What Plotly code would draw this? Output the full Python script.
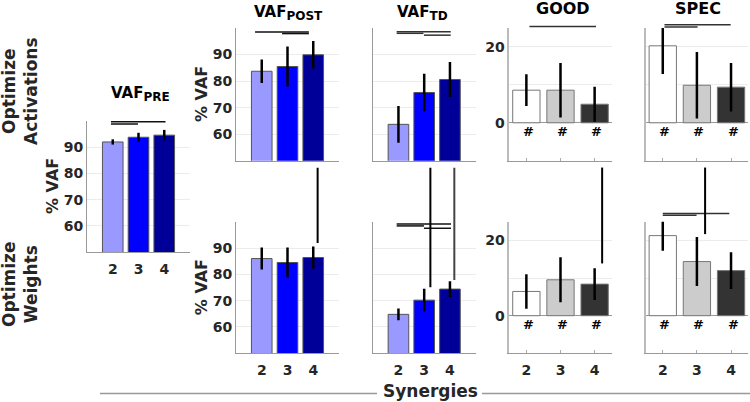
import plotly.graph_objects as go

W, H = 750, 402
FONT = "DejaVu Sans"
DARK = "#262626"
GRAY = "#999999"

# ---------------- data ----------------
categories = [2, 3, 4]
tick_labels = ["2", "3", "4"]

pre_mean = [92.0, 93.8, 94.6]
pre_err = [1.0, 1.7, 2.0]

post_act_mean = [83.7, 85.5, 89.9]
post_act_err = [4.4, 7.5, 5.2]
td_act_mean = [63.7, 75.7, 80.6]
td_act_err = [6.9, 7.1, 6.6]
good_act_mean = [8.6, 8.6, 4.9]
good_act_err = [4.2, 7.2, 4.6]
spec_act_mean = [20.3, 9.9, 9.4]
spec_act_err = [7.4, 8.75, 6.4]

post_w_mean = [86.0, 84.5, 86.4]
post_w_err = [4.2, 5.7, 4.2]
td_w_mean = [64.8, 70.2, 74.4]
td_w_err = [2.2, 4.3, 3.0]
good_w_mean = [6.45, 9.55, 8.4]
good_w_err = [4.6, 6.0, 4.2]
spec_w_mean = [21.3, 14.4, 12.0]
spec_w_err = [4.0, 6.5, 4.9]

# significance bars: (from, to, height) in data units
pre_sig = [(1.93, 4.05, 99.7), (1.93, 2.98, 98.85)]
post_act_sig = [(1.74, 3.83, 98.5), (2.79, 3.83, 97.9)]
td_act_sig = [(1.93, 4.03, 98.6), (1.93, 2.97, 98.0), (2.99, 4.03, 97.3)]
good_act_sig = [(2.09, 4.04, 25.4)]
spec_act_sig = [(2.05, 3.99, 25.87), (2.05, 3.02, 25.26)]
post_w_sig = []
td_w_sig = [(1.93, 4.04, 99.1), (1.93, 2.99, 98.4), (2.99, 4.04, 97.5)]
good_w_sig = []
spec_w_sig = [(2.0, 3.95, 27.2), (2.0, 2.99, 26.7)]

# stray vertical strokes: (x, y_low, y_high, colour)
post_w_vert = [(4.17, 91.9, 120.5, "#000000")]
td_w_vert = [(3.24, 75.1, 120.5, "#000000"), (4.17, 77.85, 120.5, "#444444")]
good_w_vert = [(4.22, 13.9, 39.4, "#000000")]
spec_w_vert = [(3.24, 21.7, 39.4, "#000000")]

hash_level = -2.4

vaf_colors = ["#9999ff", "#0000ff", "#000099"]
gs_colors = ["#ffffff", "#cccccc", "#333333"]

VAF_X = [1, 5]
VAF_Y = [50, 100]
GS_X = [1.5, 4.5]
GS_Y = [-10, 25]

# ---------------- layout geometry (pixels) ----------------
col_x = {"post": (236, 339), "td": (372.7, 475.7), "good": (509.3, 611.7), "spec": (645.7, 748.1)}
top_y = (28, 160.7)
bot_y = (221.7, 353.3)

panels = [
    dict(ax=1, kind="vaf", px=(87, 190), py=(121, 252), m=pre_mean, e=pre_err, sig=pre_sig, vert=[], ylab=True, xlab=True),
    dict(ax=2, kind="vaf", px=col_x["post"], py=top_y, m=post_act_mean, e=post_act_err, sig=post_act_sig, vert=[], ylab=True, xlab=False),
    dict(ax=3, kind="vaf", px=col_x["td"], py=top_y, m=td_act_mean, e=td_act_err, sig=td_act_sig, vert=[], ylab=False, xlab=False),
    dict(ax=4, kind="gs", px=col_x["good"], py=top_y, m=good_act_mean, e=good_act_err, sig=good_act_sig, vert=[], ylab=True, xlab=False),
    dict(ax=5, kind="gs", px=col_x["spec"], py=top_y, m=spec_act_mean, e=spec_act_err, sig=spec_act_sig, vert=[], ylab=False, xlab=False),
    dict(ax=6, kind="vaf", px=col_x["post"], py=bot_y, m=post_w_mean, e=post_w_err, sig=post_w_sig, vert=post_w_vert, ylab=True, xlab=True),
    dict(ax=7, kind="vaf", px=col_x["td"], py=bot_y, m=td_w_mean, e=td_w_err, sig=td_w_sig, vert=td_w_vert, ylab=False, xlab=True),
    dict(ax=8, kind="gs", px=col_x["good"], py=bot_y, m=good_w_mean, e=good_w_err, sig=good_w_sig, vert=good_w_vert, ylab=True, xlab=True),
    dict(ax=9, kind="gs", px=col_x["spec"], py=bot_y, m=spec_w_mean, e=spec_w_err, sig=spec_w_sig, vert=spec_w_vert, ylab=False, xlab=True),
]


def fx(p):
    return p / W


def fy(p):
    return 1 - p / H


def frac(v, rng):
    return (v - rng[0]) / (rng[1] - rng[0])


fig = go.Figure()
layout = dict(
    width=W, height=H, margin=dict(l=0, r=0, t=0, b=0),
    paper_bgcolor="white", plot_bgcolor="white", showlegend=False,
    font=dict(family=FONT, color=DARK),
)
shapes = []
annotations = []

tickfont = dict(family=FONT, size=14, color=DARK, weight="bold")

for p in panels:
    i = p["ax"]
    xn = "x" if i == 1 else f"x{i}"
    yn = "y" if i == 1 else f"y{i}"
    xk = "xaxis" if i == 1 else f"xaxis{i}"
    yk = "yaxis" if i == 1 else f"yaxis{i}"
    vaf = p["kind"] == "vaf"
    xr = VAF_X if vaf else GS_X
    yr = VAF_Y if vaf else GS_Y
    cols = vaf_colors if vaf else gs_colors
    edge = "#555555" if vaf else "#777777"

    fig.add_trace(go.Bar(
        x=categories, y=p["m"], xaxis=xn, yaxis=yn, width=0.8,
        marker=dict(color=cols, line=dict(color=edge, width=1)),
        error_y=dict(type="data", array=p["e"], color="black", thickness=2.5, width=0),
        hoverinfo="skip",
    ))

    layout[xk] = dict(
        domain=[fx(p["px"][0]), fx(p["px"][1])], anchor=yn, range=xr,
        tickvals=categories, ticktext=tick_labels,
        showticklabels=p["xlab"], showgrid=False, zeroline=False,
        showline=True, linecolor=GRAY, linewidth=1,
        ticks="" if vaf else "inside", ticklen=3, tickcolor="#aaaaaa",
        tickfont=tickfont, ticklabelstandoff=4, fixedrange=True,
    )
    if vaf:
        yt = dict(tickvals=[60, 70, 80, 90], ticktext=["60", "70", "80", "90"])
    else:
        yt = dict(tickvals=[0, 20], ticktext=["0", "20"],
                  minor=dict(tickvals=[10], showgrid=True, gridcolor="#ececec", gridwidth=1, ticks=""))
    layout[yk] = dict(
        domain=[fy(p["py"][1]), fy(p["py"][0])], anchor=xn, range=yr,
        showticklabels=p["ylab"], showgrid=True, gridcolor="#ececec", gridwidth=1,
        zeroline=not vaf, zerolinecolor="#999999", zerolinewidth=1,
        showline=True, linecolor=GRAY if vaf else "#bbbbbb", linewidth=1 if vaf else 1.5,
        ticks="", tickfont=tickfont, fixedrange=True, **yt,
    )

    for (a, b, h) in p["sig"]:
        shapes.append(dict(
            type="line", xref=f"{xn} domain", yref=f"{yn} domain",
            x0=frac(a, xr), x1=frac(b, xr), y0=frac(h, yr), y1=frac(h, yr),
            line=dict(color="#111111" if vaf and i != 3 else "#333333", width=1.5), layer="above",
        ))
    for (xv, lo, hi, c) in p["vert"]:
        shapes.append(dict(
            type="line", xref=f"{xn} domain", yref=f"{yn} domain",
            x0=frac(xv, xr), x1=frac(xv, xr), y0=frac(lo, yr), y1=frac(hi, yr),
            line=dict(color=c, width=2), layer="above",
        ))
    if not vaf:
        for c in categories:
            annotations.append(dict(
                x=c, y=hash_level, xref=xn, yref=yn, text="#", showarrow=False,
                xshift=2, yanchor="middle",
                font=dict(family=FONT, size=13, color="black", weight="bold"),
            ))

# panel titles
title_font = dict(family=FONT, size=15, color="black", weight="bold")
gs_title_font = dict(family=FONT, size=16, color="black", weight="bold")
titles = [
    ("VAF<sub><span style='font-size:12px'>PRE</span></sub>", 140, 94, title_font),
    ("VAF<sub><span style='font-size:12px'>POST</span></sub>", 288, 13, title_font),
    ("VAF<sub><span style='font-size:12px'>TD</span></sub>", 423, 13, title_font),
    ("GOOD", 563, 8, gs_title_font),
    ("SPEC", 698, 8, gs_title_font),
]
for t, x, y, f in titles:
    annotations.append(dict(text=t, x=fx(x), y=fy(y), xref="paper", yref="paper",
                            showarrow=False, xanchor="center", yanchor="middle", font=f))

# y axis labels
ylab_font = dict(family=FONT, size=16, color=DARK, weight="bold")
for x, y in [(52.5, 186.5), (201.7, 94.3), (201.7, 287.5)]:
    annotations.append(dict(text="% VAF", x=fx(x), y=fy(y), xref="paper", yref="paper",
                            showarrow=False, textangle=-90, xanchor="center", yanchor="middle",
                            font=ylab_font))

# row labels
row_font = dict(family=FONT, size=17, color=DARK, weight="bold")
for t, y in [("Optimize<br>Activations", 91), ("Optimize<br>Weights", 284)]:
    annotations.append(dict(text=t, x=fx(20), y=fy(y), xref="paper", yref="paper",
                            showarrow=False, textangle=-90, xanchor="center", yanchor="middle",
                            font=row_font))

# common x label
annotations.append(dict(text="Synergies", x=fx(430), y=fy(391), xref="paper", yref="paper",
                        showarrow=False, xanchor="center", yanchor="middle", font=row_font))
for a, b in [(100, 377), (482, 750)]:
    shapes.append(dict(type="line", xref="paper", yref="paper", x0=fx(a), x1=fx(b),
                       y0=fy(393.5), y1=fy(393.5), line=dict(color="#999999", width=1.5)))

layout["shapes"] = shapes
layout["annotations"] = annotations
fig.update_layout(**layout)
fig.write_html("out.html", config={"displayModeBar": False},
               post_script="document.body.style.margin='0';document.body.style.overflow='hidden';")
